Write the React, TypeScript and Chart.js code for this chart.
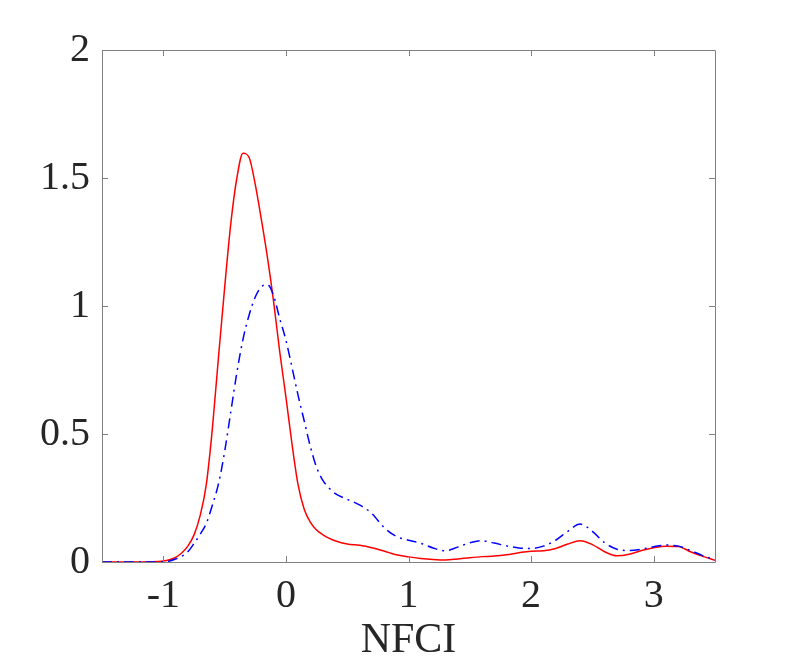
import React, { useEffect, useRef } from "react";
import { Chart, registerables } from "chart.js";

Chart.register(...registerables);

const X_VALUES = [
  -1.5, -1.3, -1.1, -1.0, -0.95, -0.9, -0.85, -0.8, -0.75, -0.7, -0.65, -0.6, -0.55, -0.5,
  -0.45, -0.4, -0.35, -0.3, -0.25, -0.2, -0.15, -0.1, -0.05, 0, 0.05, 0.1, 0.15, 0.2, 0.25,
  0.3, 0.35, 0.4, 0.5, 0.6, 0.7, 0.8, 0.9, 1.0, 1.1, 1.2, 1.3, 1.4, 1.5, 1.6, 1.7, 1.8, 1.9,
  2.0, 2.1, 2.2, 2.3, 2.4, 2.5, 2.6, 2.7, 2.8, 2.9, 3.0, 3.1, 3.2, 3.3, 3.4, 3.5,
];

const RED_SERIES = [
  0, 0, 0.001, 0.004, 0.009, 0.018, 0.035, 0.062, 0.105, 0.18, 0.3, 0.52, 0.8, 1.07,
  1.32, 1.5, 1.597, 1.58, 1.475, 1.337, 1.188, 1.016, 0.82, 0.645, 0.46, 0.3, 0.205, 0.155,
  0.125, 0.107, 0.093, 0.083, 0.07, 0.065, 0.056, 0.043, 0.028, 0.02, 0.014, 0.01, 0.008,
  0.012, 0.017, 0.021, 0.023, 0.028, 0.036, 0.042, 0.044, 0.053, 0.07, 0.083, 0.068, 0.04,
  0.024, 0.03, 0.045, 0.056, 0.062, 0.061, 0.04, 0.022, 0.007,
];

const BLUE_SERIES = [
  0, 0, 0, 0.001, 0.004, 0.012, 0.022, 0.04, 0.072, 0.108, 0.15, 0.222, 0.305, 0.43,
  0.585, 0.74, 0.87, 0.965, 1.035, 1.075, 1.083, 1.04, 0.95, 0.867, 0.76, 0.65, 0.55, 0.45,
  0.37, 0.32, 0.29, 0.268, 0.245, 0.223, 0.19, 0.135, 0.1, 0.085, 0.073, 0.055, 0.044,
  0.058, 0.075, 0.083, 0.074, 0.063, 0.055, 0.053, 0.062, 0.085, 0.12, 0.148, 0.12, 0.075,
  0.05, 0.045, 0.05, 0.06, 0.066, 0.062, 0.045, 0.025, 0.008,
];

const X_TICKS = [-1, 0, 1, 2, 3];
const X_TICK_LABELS = ["-1", "0", "1", "2", "3"];
const Y_TICKS = [0, 0.5, 1, 1.5, 2];
const Y_TICK_LABELS = ["0", "0.5", "1", "1.5", "2"];
const X_TITLE = "NFCI";

const AXIS_COLOR = "#808080";
const TEXT_COLOR = "#262626";
const FONT = "'Liberation Serif', 'Times New Roman', serif";

const boxPlugin = {
  id: "matlabBox",
  afterDraw(chart: any) {
    const { ctx, chartArea, scales } = chart;
    const { left, right, top, bottom } = chartArea;
    const tl = 6;
    ctx.save();
    ctx.strokeStyle = AXIS_COLOR;
    ctx.lineWidth = 1;
    ctx.beginPath();
    ctx.rect(left + 0.5, top + 0.5, right - left, bottom - top);
    ctx.stroke();
    ctx.beginPath();
    X_TICKS.forEach((v) => {
      const px = Math.round(scales.x.getPixelForValue(v)) + 0.5;
      ctx.moveTo(px, bottom);
      ctx.lineTo(px, bottom - tl);
      ctx.moveTo(px, top);
      ctx.lineTo(px, top + tl);
    });
    Y_TICKS.forEach((v) => {
      const py = Math.round(scales.y.getPixelForValue(v)) + 0.5;
      ctx.moveTo(left, py);
      ctx.lineTo(left + tl, py);
      ctx.moveTo(right, py);
      ctx.lineTo(right - tl, py);
    });
    ctx.stroke();
    ctx.restore();
  },
};

export default function App() {
  const canvasRef = useRef<HTMLCanvasElement | null>(null);

  useEffect(() => {
    if (!canvasRef.current) return;
    const red = X_VALUES.map((x, i) => ({ x, y: RED_SERIES[i] }));
    const blue = X_VALUES.map((x, i) => ({ x, y: BLUE_SERIES[i] }));
    const chart = new Chart(canvasRef.current, {
      type: "line",
      data: {
        datasets: [
          {
            data: blue,
            borderColor: "#0000ff",
            borderWidth: 1.5,
            borderDash: [10, 5, 2, 5],
            pointRadius: 0,
            cubicInterpolationMode: "monotone",
            fill: false,
          },
          {
            data: red,
            borderColor: "#ff0000",
            borderWidth: 1.5,
            pointRadius: 0,
            cubicInterpolationMode: "monotone",
            fill: false,
          },
        ],
      },
      options: {
        animation: false,
        responsive: false,
        events: [],
        layout: { padding: { top: 50, right: 74, left: 0, bottom: 0 } },
        plugins: { legend: { display: false }, tooltip: { enabled: false } },
        scales: {
          x: {
            type: "linear",
            min: -1.5,
            max: 3.5,
            grid: { display: false, drawTicks: false },
            border: { display: false },
            afterBuildTicks: (scale: any) => {
              scale.ticks = X_TICKS.map((v) => ({ value: v }));
            },
            afterFit: (scale: any) => {
              scale.height = 104;
            },
            ticks: {
              autoSkip: false,
              maxRotation: 0,
              padding: 10,
              color: TEXT_COLOR,
              font: { family: FONT, size: 40 },
              callback: (v: any) => {
                const i = X_TICKS.indexOf(Number(v));
                return i >= 0 ? X_TICK_LABELS[i] : "";
              },
            },
            title: {
              display: true,
              text: X_TITLE,
              color: TEXT_COLOR,
              font: { family: FONT, size: 42 },
              padding: { top: 0, bottom: 0 },
            },
          },
          y: {
            type: "linear",
            min: 0,
            max: 2,
            grid: { display: false, drawTicks: false },
            border: { display: false },
            afterBuildTicks: (scale: any) => {
              scale.ticks = Y_TICKS.map((v) => ({ value: v }));
            },
            afterFit: (scale: any) => {
              scale.width = 102;
            },
            ticks: {
              autoSkip: false,
              padding: 12,
              color: TEXT_COLOR,
              font: { family: FONT, size: 40 },
              callback: (v: any) => {
                const i = Y_TICKS.indexOf(Number(v));
                return i >= 0 ? Y_TICK_LABELS[i] : "";
              },
            },
          },
        },
      },
      plugins: [boxPlugin],
    });
    return () => chart.destroy();
  }, []);

  return (
    <div style={{ position: "fixed", left: 0, top: 0, width: 789, height: 666, background: "#fff" }}>
      <canvas ref={canvasRef} width={789} height={666} style={{ display: "block" }} />
    </div>
  );
}
